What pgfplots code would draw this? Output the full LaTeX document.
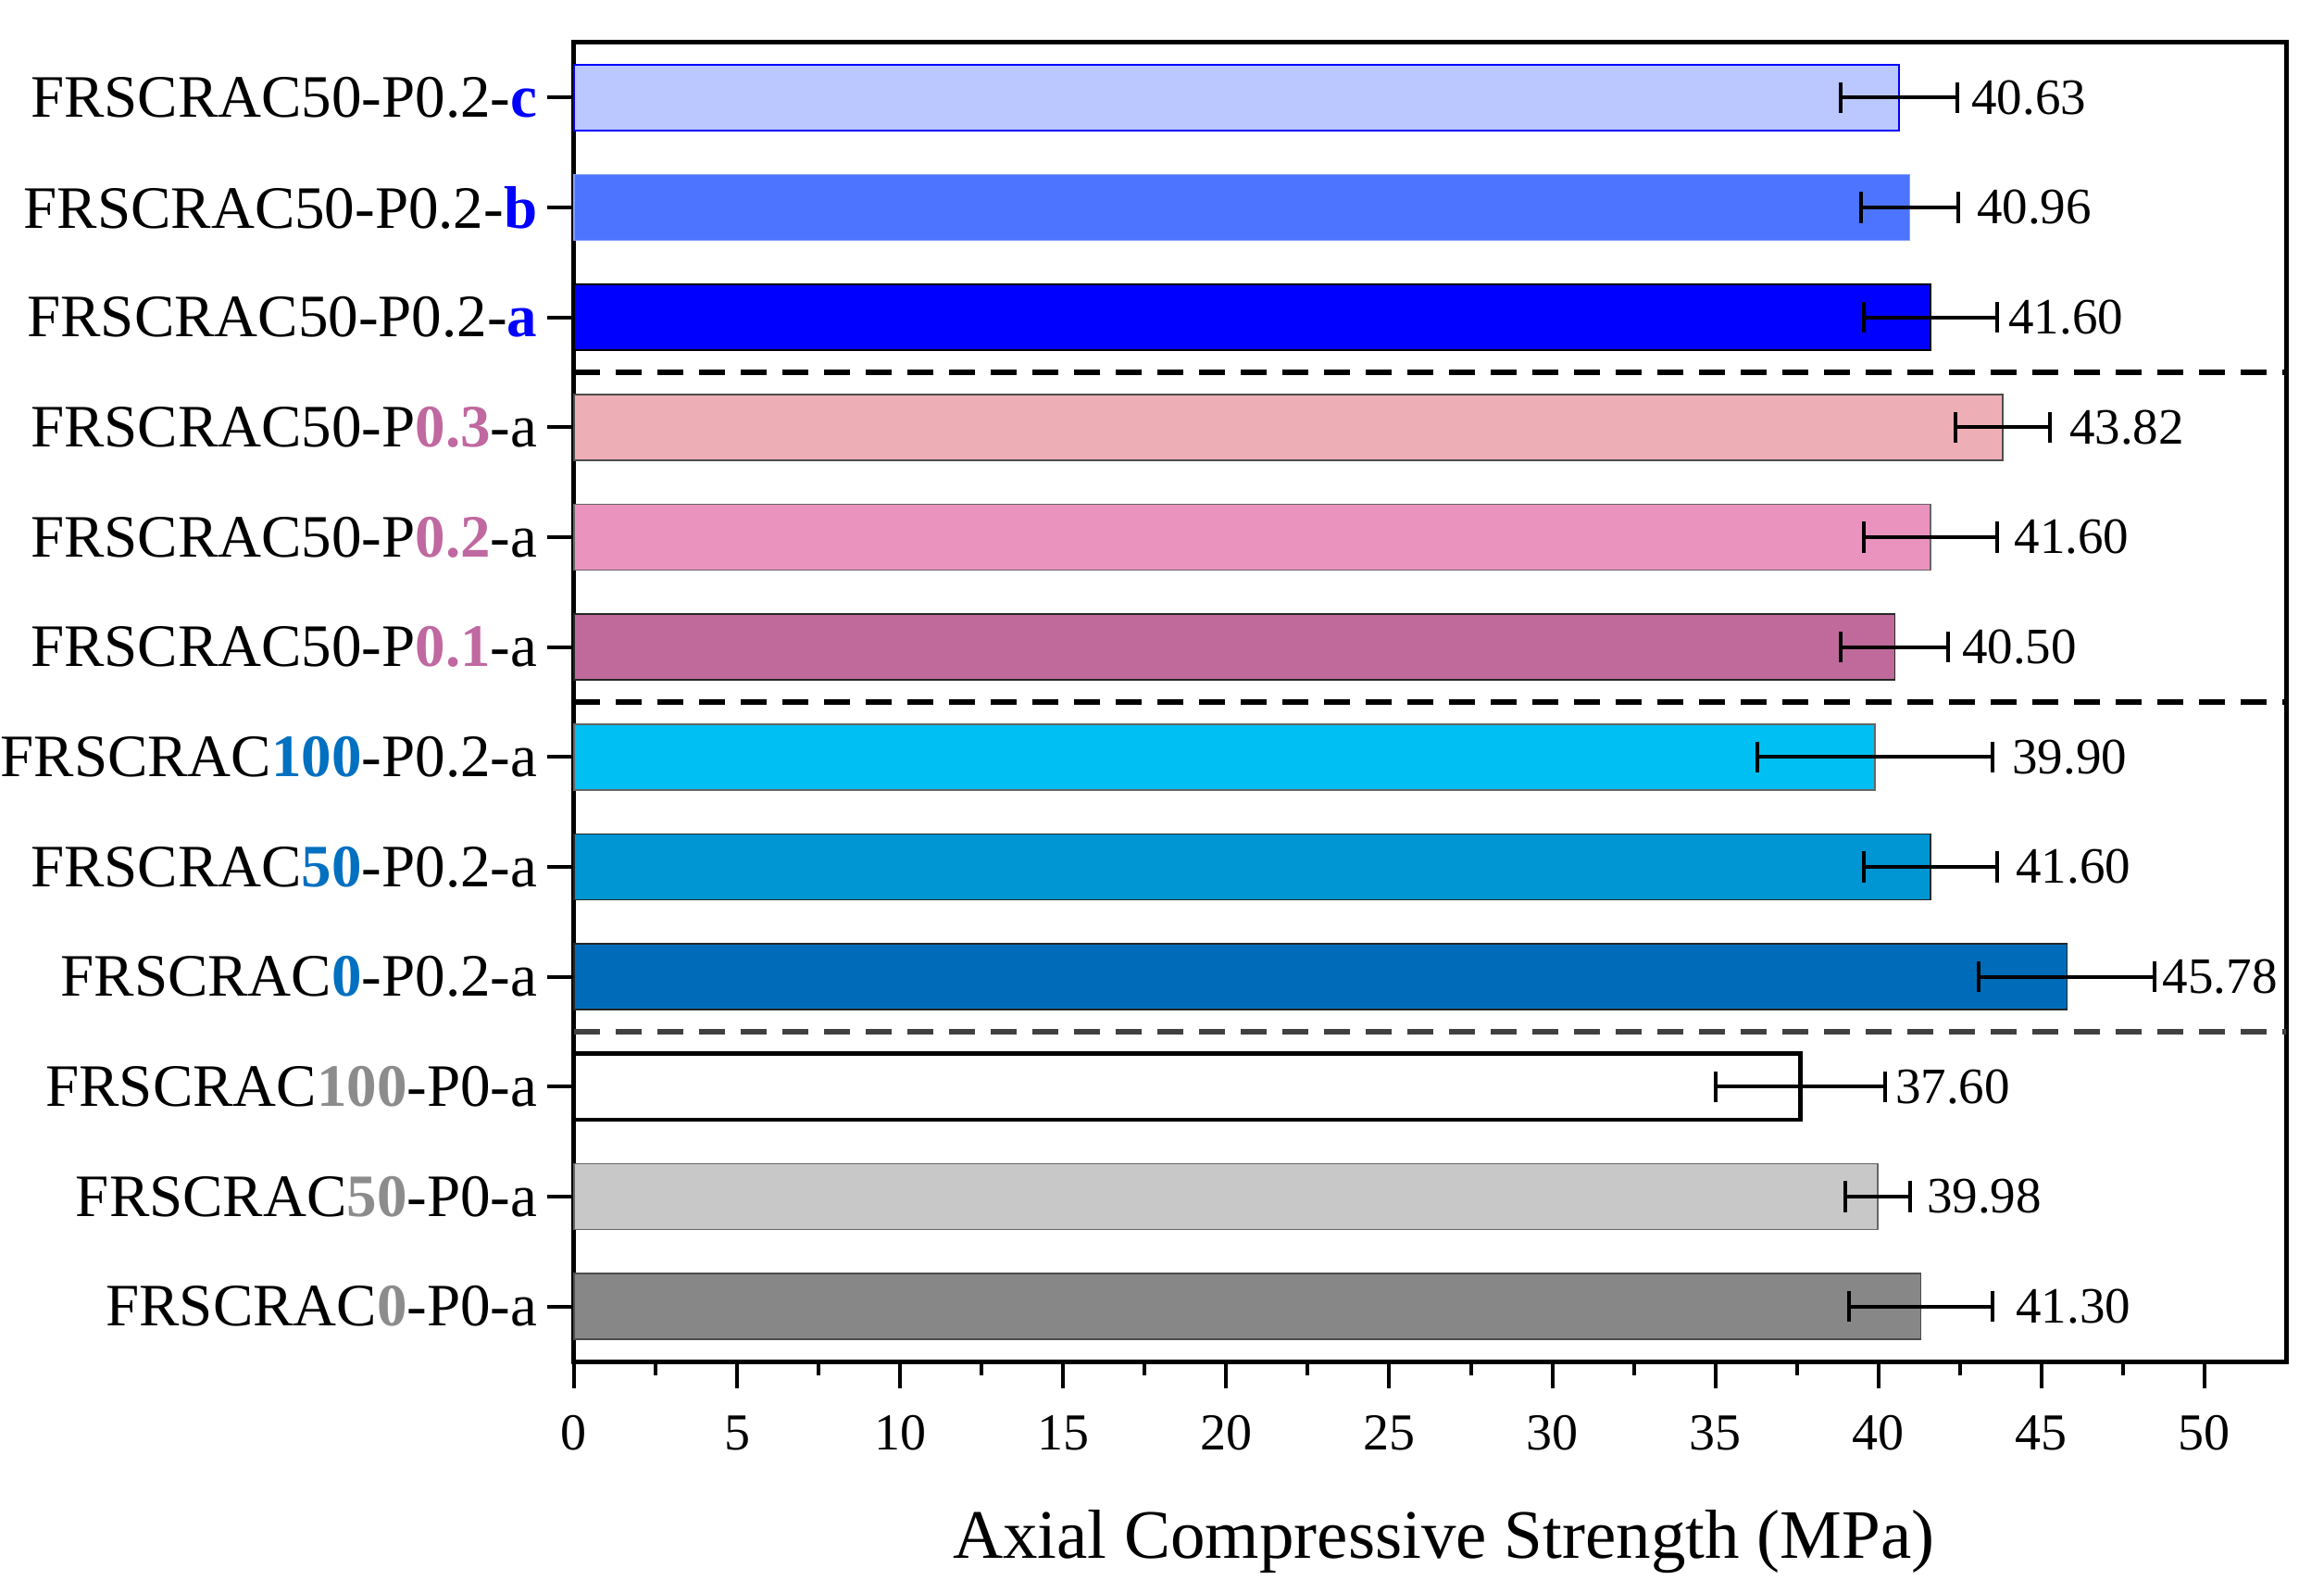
\documentclass[border=0pt]{standalone}
\usepackage{pgfplots}
\pgfplotsset{compat=1.18}
\usepackage{fontspec}
\setmainfont{Liberation Serif}

\definecolor{cC}{RGB}{186,200,255}
\definecolor{cB}{RGB}{77,116,255}
\definecolor{cA}{RGB}{0,0,255}
\definecolor{pk3}{RGB}{238,174,181}
\definecolor{pk2}{RGB}{235,147,191}
\definecolor{pk1}{RGB}{192,106,156}
\definecolor{sk100}{RGB}{0,191,243}
\definecolor{sk50}{RGB}{0,150,212}
\definecolor{sk0}{RGB}{0,108,185}
\definecolor{gr50}{RGB}{200,200,200}
\definecolor{gr0}{RGB}{135,135,135}
\definecolor{pinkt}{RGB}{192,104,160}
\definecolor{bluet}{RGB}{0,112,192}
\definecolor{grayt}{RGB}{140,140,140}

\pgfplotsset{
  hbar/.style={xbar, bar width=0.6, bar shift=0pt, line width=0.5bp, draw=black!85,
    error bars/x dir=both, error bars/x explicit,
    error bars/error bar style={line width=1.2bp, black, solid},
    error bars/error mark options={rotate=90, line width=1.2bp, black, mark size=5bp, solid}},
  sep/.style={line width=1.6bp, dash pattern=on 8.5bp off 5bp, forget plot},
}

\begin{document}
\begin{tikzpicture}
\useasboundingbox (-186bp,-74.7bp) rectangle (567bp,441bp);
\begin{axis}[
  at={(0,0)}, anchor=south west,
  scale only axis, width=554.7bp, height=427.2bp,
  xmin=0, xmax=52.5, ymin=-0.5, ymax=11.5,
  clip=false,
  axis line style={line width=1.5bp},
  tick align=outside, xtick pos=bottom, ytick pos=left,
  major tick length=8.7bp, minor tick length=4.5bp,
  every tick/.style={line width=1.2bp, black},
  xtick={0,5,...,50}, minor x tick num=1,
  ytick={0,...,11},
  yticklabels={
    FRSCRAC\textcolor{grayt}{\textbf{0}}-P0-a,
    FRSCRAC\textcolor{grayt}{\textbf{50}}-P0-a,
    FRSCRAC\textcolor{grayt}{\textbf{100}}-P0-a,
    FRSCRAC\textcolor{bluet}{\textbf{0}}-P0.2-a,
    FRSCRAC\textcolor{bluet}{\textbf{50}}-P0.2-a,
    FRSCRAC\textcolor{bluet}{\textbf{100}}-P0.2-a,
    FRSCRAC50-P\textcolor{pinkt}{\textbf{0.1}}-a,
    FRSCRAC50-P\textcolor{pinkt}{\textbf{0.2}}-a,
    FRSCRAC50-P\textcolor{pinkt}{\textbf{0.3}}-a,
    FRSCRAC50-P0.2-\textcolor{cA}{\textbf{a}},
    FRSCRAC50-P0.2-\textcolor{cA}{\textbf{b}},
    FRSCRAC50-P0.2-\textcolor{cA}{\textbf{c}}},
  yticklabel style={font=\fontsize{19.5bp}{22bp}\selectfont, anchor=east, inner sep=0pt, xshift=-3bp},
  xticklabel style={font=\fontsize{16.8bp}{19bp}\selectfont, anchor=base, inner sep=0pt},
  /pgf/number format/assume math mode=true,
  every x tick label/.append style={yshift=-19.8bp},
  xlabel={Axial Compressive Strength (MPa)},
  every axis x label/.style={at={(axis description cs:0.508,0)}, anchor=base, yshift=-63.6bp,
    font=\fontsize{22.5bp}{26bp}\selectfont},
]
% bars, bottom to top
\addplot[hbar, fill=gr0, draw=black!70] coordinates {(41.30,0) +- (2.2,0)};
\addplot[hbar, fill=gr50, draw=black!60] coordinates {(39.98,1) +- (1.0,0)};
\addplot[hbar, fill=white, draw=black, line width=1.4bp] coordinates {(37.60,2) +- (2.6,0)};
\addplot[hbar, fill=sk0] coordinates {(45.78,3) +- (2.7,0)};
\addplot[hbar, fill=sk50] coordinates {(41.60,4) +- (2.05,0)};
\addplot[hbar, fill=sk100, draw=black!60] coordinates {(39.90,5) +- (3.6,0)};
\addplot[hbar, fill=pk1] coordinates {(40.50,6) +- (1.65,0)};
\addplot[hbar, fill=pk2, draw=black!60] coordinates {(41.60,7) +- (2.05,0)};
\addplot[hbar, fill=pk3, draw=black!70] coordinates {(43.82,8) +- (1.45,0)};
\addplot[hbar, fill=cA, draw=black] coordinates {(41.60,9) +- (2.05,0)};
\addplot[hbar, fill=cB, draw=cB!70!white] coordinates {(40.96,10) +- (1.5,0)};
\addplot[hbar, fill=cC, draw=cA] coordinates {(40.63,11) +- (1.8,0)};
% group separators
\addplot[sep, black] coordinates {(0,8.5) (52.5,8.5)};
\addplot[sep, black] coordinates {(0,5.5) (52.5,5.5)};
\addplot[sep, black!75] coordinates {(0,2.5) (52.5,2.5)};
% value labels
\addplot[draw=none, mark=none, forget plot, nodes near coords, point meta=explicit symbolic,
  every node near coord/.append style={anchor=west, inner sep=0pt, black,
    font=\fontsize{16.5bp}{19bp}\selectfont}]
  coordinates {
    (44.20,0) [41.30]
    (41.47,1) [39.98]
    (40.50,2) [37.60]
    (48.70,3) [45.78]
    (44.20,4) [41.60]
    (44.09,5) [39.90]
    (42.55,6) [40.50]
    (44.15,7) [41.60]
    (45.84,8) [43.82]
    (43.97,9) [41.60]
    (43.00,10) [40.96]
    (42.84,11) [40.63]
  };
\end{axis}
\end{tikzpicture}
\end{document}
